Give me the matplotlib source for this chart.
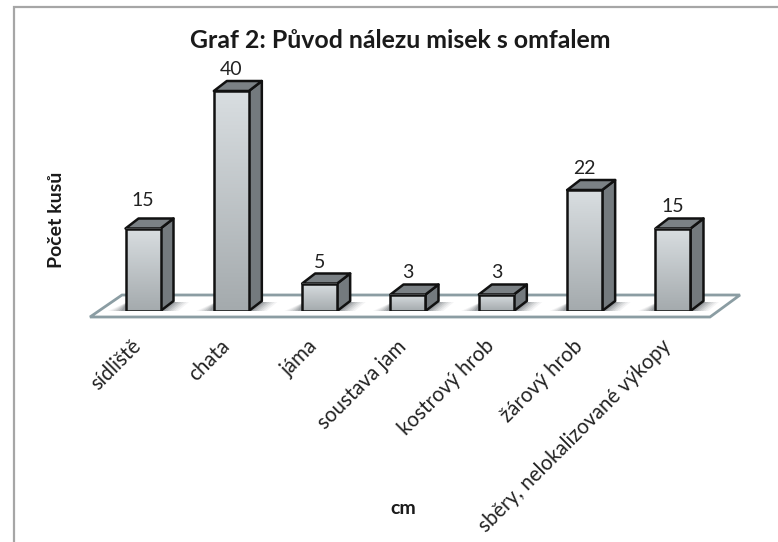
import numpy as np
import matplotlib
matplotlib.use("Agg")
import matplotlib.pyplot as plt
from matplotlib.lines import Line2D
from matplotlib.patches import Polygon, Rectangle
from matplotlib.colors import LinearSegmentedColormap
from matplotlib.transforms import ScaledTranslation

categories = ["sídliště", "chata", "jáma", "soustava jam", "kostrový hrob", "žárový hrob", "sběry, nelokalizované výkopy"]
values = [15, 40, 5, 3, 3, 22, 15]
title = "Graf 2: Původ nálezu misek s omfalem"
xlabel = "cm"
ylabel = "Počet kusů"
label_lift = [9, 3, 3, 3, 3, 3, 3]   # gap in pixels between bar top and its value

W, H = 778, 542
plt.rcParams['font.family'] = ['Lato', 'DejaVu Sans']
fig = plt.figure(figsize=(W/100, H/100), dpi=100, facecolor='white')
PX, PY = 88.33, 5.5   # pixels per data unit
x0px, y0px = 143, 311
L, R, T = 70, 760, 30
ax = fig.add_axes([L/W, 1-y0px/H, (R-L)/W, (y0px-T)/H])
ax.patch.set_alpha(0)
for s in ax.spines.values():
    s.set_visible(False)
ax.set_yticks([])

def dx(p): return p/PX
def dy(p): return -p/PY   # pixel-down offset to data

# outer frame: left and top edges only
fig.add_artist(Line2D([13.5/W, 13.5/W, 1], [0, 1-7/H, 1-7/H], color='#a6a6a6', lw=1.6,
                      transform=fig.transFigure, solid_joinstyle='miter'))

# floor
floor = [(dx(90-143), dy(317-311)), (dx(710-143), dy(317-311)), (dx(740-143), dy(295-311)), (dx(122-143), dy(295-311))]
ax.add_patch(Polygon(floor, closed=True, fc='white', ec='#8b9da3', lw=2, clip_on=False, zorder=1))

front = LinearSegmentedColormap.from_list('f', ['#d9dee1', '#a4aaad'])
grad = np.linspace(0, 1, 256).reshape(-1, 1)
bw = 35/PX
ddx, ddy = 13/PX, 10/PY

for i, v in enumerate(values):
    l, r = i-bw/2, i+bw/2
    # soft floor shadow
    for k, a in zip(range(6, 0, -1), [0.06, 0.08, 0.10, 0.13, 0.16, 0.20]):
        s = k*2.6
        ax.add_patch(Polygon([(l-dx(s+2), dy(0)), (r+dx(2+s), dy(0)), (r+dx(13+s), dy(-9)), (l+dx(2), dy(-9))],
                             closed=True, fc='#4d5458', ec='none', alpha=a, clip_on=False, zorder=2))
    # side face
    ax.add_patch(Polygon([(r, 0), (r+ddx, ddy), (r+ddx, v+ddy), (r, v)], closed=True, fc='#747a7e', ec='#111111', lw=1.8, joinstyle='round', zorder=3))
    # top face
    ax.add_patch(Polygon([(l, v), (r, v), (r+ddx, v+ddy), (l+ddx, v+ddy)], closed=True, fc='#7b8185', ec='#111111', lw=1.8, joinstyle='round', zorder=3))
    # front face
    ax.imshow(grad, extent=(l, r, 0, v), aspect='auto', cmap=front, zorder=4, interpolation='bilinear')
    ax.add_patch(Rectangle((l, 0), bw, v, fill=False, ec='#111111', lw=1.8, zorder=5))
    ax.text(i, v+ddy+dy(-label_lift[i]), str(v), ha='center', va='bottom', fontsize=14, color='#222222', zorder=6)

ax.set_xlim((L-x0px)/PX, (R-x0px)/PX)
ax.set_ylim(0, (y0px-T)/PY)

ax.set_xticks(range(len(categories)))
ax.set_xticklabels(categories, rotation=45, ha='right', va='top', rotation_mode='anchor', fontsize=14.8, color='#222222')
ax.tick_params(axis='x', length=0, pad=18)
shift = ScaledTranslation(-12/100, 0, fig.dpi_scale_trans)
for lab in ax.get_xticklabels():
    lab.set_transform(lab.get_transform() + shift)

fig.text(400/W, 1-41/H, title, ha='center', va='center', fontsize=17.9, fontweight='bold', color='#1a1a1a')
fig.text(403/W, 1-508/H, xlabel, ha='center', va='center', fontsize=14, fontweight='bold', color='#1a1a1a')
fig.text(57/W, 1-220/H, ylabel, ha='center', va='center', rotation=90, fontsize=14, fontweight='bold', color='#1a1a1a')

fig.savefig('out.png', dpi=100)
